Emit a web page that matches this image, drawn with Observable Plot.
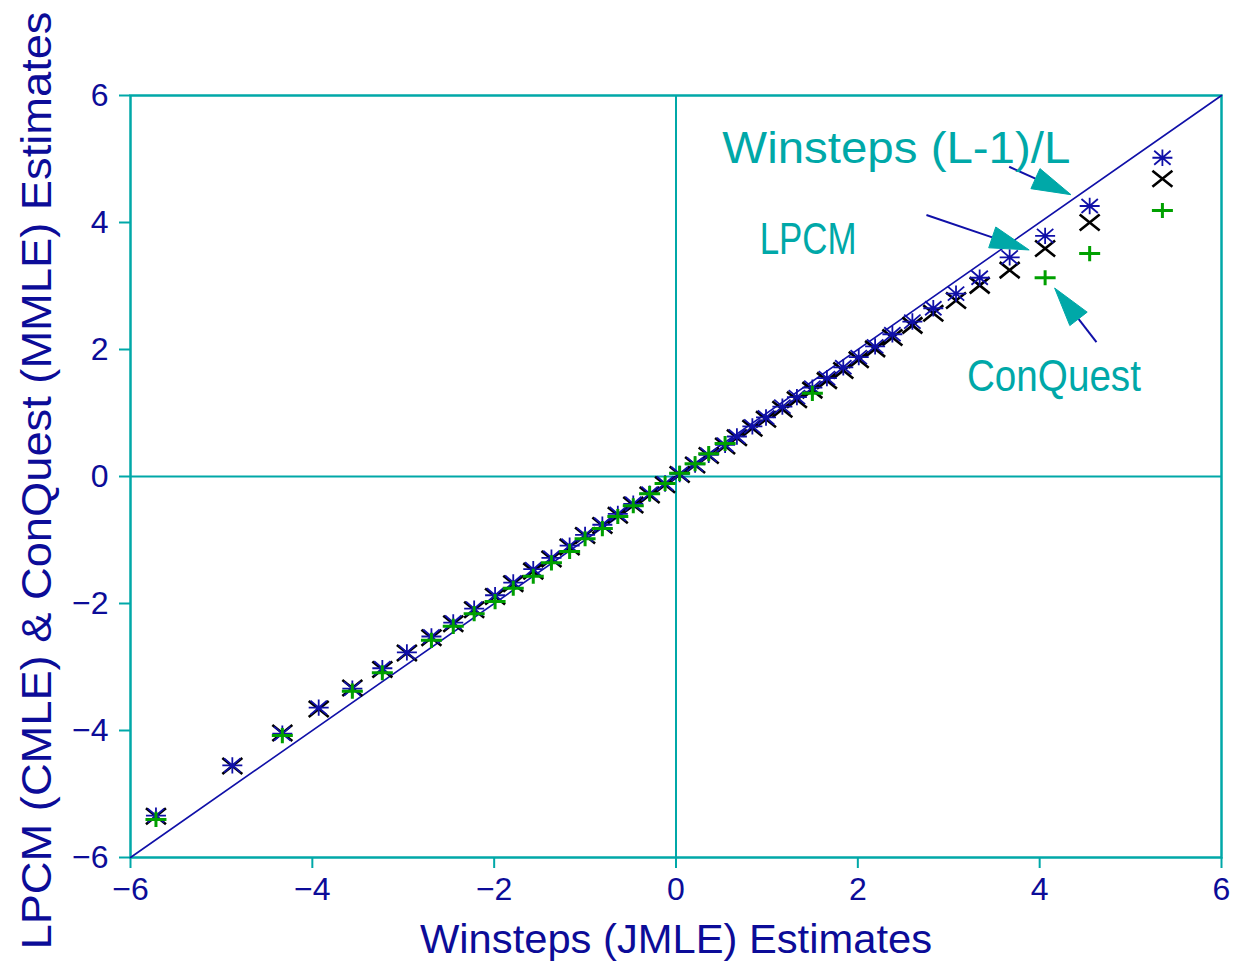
<!DOCTYPE html>
<html>
<head>
<meta charset="utf-8">
<script src="https://cdn.jsdelivr.net/npm/d3@7"></script>
<script src="https://cdn.jsdelivr.net/npm/@observablehq/plot@0.6"></script>
<style>
  html, body { margin: 0; padding: 0; background: #fff; }
  #chart { width: 1235px; height: 968px; }
</style>
</head>
<body>
<div id="chart"></div>
<script>
// ---- data ----
const winsteps = [-5.72,-4.88,-4.33,-3.93,-3.56,-3.23,-2.96,-2.69,-2.45,-2.22,-1.99,-1.79,-1.57,-1.37,-1.17,-1.00,-0.81,-0.64,-0.47,-0.29,-0.12,0.04,0.21,0.36,0.54,0.67,0.84,0.99,1.17,1.33,1.50,1.66,1.84,2.01,2.19,2.38,2.60,2.83,3.08,3.34,3.67,4.06,4.55,5.35];
const winstepsAdj = [-5.34,-4.55,-4.05,-3.64,-3.34,-3.02,-2.77,-2.52,-2.30,-2.08,-1.87,-1.67,-1.46,-1.28,-1.09,-0.92,-0.76,-0.59,-0.43,-0.27,-0.11,0.04,0.19,0.34,0.50,0.63,0.79,0.93,1.10,1.25,1.40,1.55,1.72,1.88,2.05,2.24,2.44,2.65,2.88,3.13,3.45,3.79,4.26,5.02];
const lpcm = [-5.35,-4.56,-4.04,-3.66,-3.33,-3.04,-2.78,-2.54,-2.32,-2.10,-1.89,-1.69,-1.49,-1.30,-1.11,-0.93,-0.77,-0.61,-0.45,-0.29,-0.13,0.03,0.18,0.33,0.48,0.61,0.76,0.90,1.06,1.21,1.36,1.51,1.67,1.84,2.01,2.19,2.38,2.57,2.77,3.01,3.25,3.59,4.00,4.69];
const conquest = [-5.40,null,-4.08,null,-3.38,-3.09,null,-2.58,-2.36,-2.16,-1.97,-1.76,-1.57,-1.36,-1.18,-0.98,-0.82,-0.63,-0.46,-0.27,-0.11,0.05,0.20,0.36,0.52,null,null,null,null,null,1.31,null,null,null,null,null,null,null,null,null,null,3.13,3.51,4.19];
const xTicks = [-6,-4,-2,0,2,4,6];
const yTicks = [-6,-4,-2,0,2,4,6];
const identity = [-6, 6];
const xTitle = "Winsteps (JMLE) Estimates";
const yTitle = "LPCM (CMLE) & ConQuest (MMLE) Estimates";
const annotationText = ["Winsteps (L-1)/L", "LPCM", "ConQuest"];
const annotationX = [0.51, 0.92, 3.20];
const annotationY = [5.165, 3.73, 1.575];
const arrowFrom = [[3.67, 4.87], [2.76, 4.11], [4.63, 2.11]];
const arrowTo = [[4.35, 4.43], [3.89, 3.56], [4.17, 2.96]];

// ---- styling ----
const TEAL = "#00a8a8";
const NAVY = "#0c0c98";
const BLUE = "#1010a8";
const GREEN = "#00a000";
const FONT = "Liberation Sans, Arial, sans-serif";

const rows = winsteps.map((x, i) => ({x, adj: winstepsAdj[i], lpcm: lpcm[i], cq: conquest[i]}));
const labels = annotationText.map((t, i) => ({t, x: annotationX[i], y: annotationY[i]}));
const arrows = arrowFrom.map((f, i) => ({x1: f[0], y1: f[1], x2: arrowTo[i][0], y2: arrowTo[i][1]}));

// custom symbols (r from size)
const asteriskSym = {draw(ctx, size) {
  const r = Math.sqrt(size / Math.PI);
  const hw = r, hh = r * 0.82, dw = r * 0.82, dh = r * 0.7;
  ctx.moveTo(-hw, 0); ctx.lineTo(hw, 0);
  ctx.moveTo(0, -hh); ctx.lineTo(0, hh);
  ctx.moveTo(-dw, -dh); ctx.lineTo(dw, dh);
  ctx.moveTo(-dw, dh); ctx.lineTo(dw, -dh);
}};
const timesSym = {draw(ctx, size) {
  const r = Math.sqrt(size / Math.PI);
  const hw = r, hh = r * 0.8;
  ctx.moveTo(-hw, -hh); ctx.lineTo(hw, hh);
  ctx.moveTo(-hw, hh); ctx.lineTo(hw, -hh);
}};
const plusSym = {draw(ctx, size) {
  const r = Math.sqrt(size / Math.PI);
  const hw = r, hh = r * 0.72;
  ctx.moveTo(-hw, 0); ctx.lineTo(hw, 0);
  ctx.moveTo(0, -hh); ctx.lineTo(0, hh);
}};

function arrowMark(index, scales, values, dimensions) {
  const {width, height, marginLeft, marginRight, marginTop, marginBottom} = dimensions;
  const sx = typeof scales.x === "function" ? scales.x
    : v => marginLeft + (v + 6) / 12 * (width - marginLeft - marginRight);
  const sy = typeof scales.y === "function" ? scales.y
    : v => height - marginBottom - (v + 6) / 12 * (height - marginTop - marginBottom);
  const g = d3.create("svg:g").attr("aria-label", "arrows");
  for (const a of arrows) {
    const x1 = sx(a.x1), y1 = sy(a.y1), x2 = sx(a.x2), y2 = sy(a.y2);
    const dx = x2 - x1, dy = y2 - y1, L = Math.hypot(dx, dy);
    const ux = dx / L, uy = dy / L;
    const hl = 39, hw = 11;
    const bx = x2 - ux * hl, by = y2 - uy * hl;
    g.append("line").attr("x1", x1).attr("y1", y1).attr("x2", bx).attr("y2", by)
      .attr("stroke", BLUE).attr("stroke-width", 2);
    g.append("polygon")
      .attr("points", [[x2, y2], [bx - uy * hw, by + ux * hw], [bx + uy * hw, by - ux * hw]].map(p => p.join(",")).join(" "))
      .attr("fill", TEAL).attr("stroke", TEAL).attr("stroke-width", 1);
  }
  return g.node();
}

const chart = Plot.plot({
  width: 1235,
  height: 968,
  marginLeft: 130,
  marginRight: 14,
  marginTop: 95,
  marginBottom: 111,
  style: {fontFamily: FONT, background: "#fff", overflow: "visible"},
  x: {domain: [-6, 6]},
  y: {domain: [-6, 6]},
  marks: [
    Plot.ruleX([0], {stroke: TEAL, strokeWidth: 2}),
    Plot.ruleY([0], {stroke: TEAL, strokeWidth: 2}),
    Plot.frame({stroke: TEAL, strokeWidth: 2.5}),
    Plot.axisX({ticks: xTicks, tickSize: 11, tickPadding: 9, fontSize: 32, stroke: TEAL, fill: NAVY, strokeWidth: 2, label: null}),
    Plot.axisY({ticks: yTicks, tickSize: 11, tickPadding: 11, fontSize: 32, stroke: TEAL, fill: NAVY, strokeWidth: 2, label: null}),
    Plot.line(identity, {x: d => d, y: d => d, stroke: BLUE, strokeWidth: 1.6}),
    Plot.dot(rows, {x: "x", y: "lpcm", symbol: timesSym, r: 10, stroke: "#000", strokeWidth: 2.6, fill: "none"}),
    Plot.dot(rows, {x: "x", y: "adj", symbol: asteriskSym, r: 10, stroke: BLUE, strokeWidth: 1.8, fill: "none"}),
    Plot.dot(rows.filter(d => d.cq != null), {x: "x", y: "cq", symbol: plusSym, r: 10.5, stroke: GREEN, strokeWidth: 3, fill: "none"}),
    arrowMark,
    Plot.text(labels, {x: "x", y: "y", text: "t", textAnchor: "start", lineAnchor: "middle", fontSize: 44, fill: TEAL}),
    Plot.text([xTitle], {frameAnchor: "bottom", textAnchor: "middle", lineAnchor: "middle", dy: 83, fontSize: 40, fill: NAVY}),
    Plot.text([yTitle], {frameAnchor: "left", textAnchor: "middle", lineAnchor: "middle", rotate: -90, dx: -93, dy: 4, fontSize: 42, fill: NAVY})
  ]
});

document.getElementById("chart").appendChild(chart);

// fit text widths to the reference
const textLengths = new Map([
  [annotationText[0], 348], [annotationText[1], 97], [annotationText[2], 174],
  [xTitle, 512], [yTitle, 938]
]);
chart.querySelectorAll("text").forEach(t => {
  const s = t.textContent;
  if (textLengths.has(s)) {
    t.setAttribute("textLength", textLengths.get(s));
    t.setAttribute("lengthAdjust", "spacingAndGlyphs");
  }
});
</script>
</body>
</html>
